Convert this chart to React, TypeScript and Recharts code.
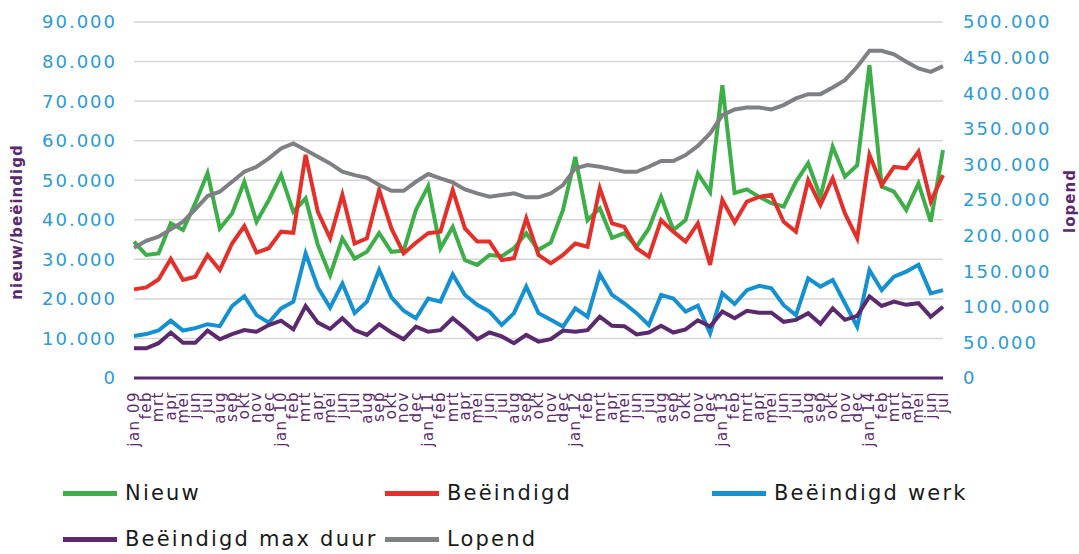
import { LineChart, Line, XAxis, YAxis, CartesianGrid, Legend } from 'recharts';

const FONT = '"DejaVu Sans", Verdana, sans-serif';
const PURPLE = '#5b2a6e';
const TICK_BLUE = '#2b9ad6';

const months = [
  'jan 09', 'feb', 'mrt', 'apr', 'mei', 'jun', 'jul', 'aug', 'sep', 'okt', 'nov', 'dec',
  'jan 10', 'feb', 'mrt', 'apr', 'mei', 'jun', 'jul', 'aug', 'sep', 'okt', 'nov', 'dec',
  'jan 11', 'feb', 'mrt', 'apr', 'mei', 'jun', 'jul', 'aug', 'sep', 'okt', 'nov', 'dec',
  'jan 12', 'feb', 'mrt', 'apr', 'mei', 'jun', 'jul', 'aug', 'sep', 'okt', 'nov', 'dec',
  'jan 13', 'feb', 'mrt', 'apr', 'mei', 'jun', 'jul', 'aug', 'sep', 'okt', 'nov', 'dec',
  'jan 14', 'feb', 'mrt', 'apr', 'mei', 'jun', 'jul',
];

const nieuw = [
  34500, 31100, 31500, 39100, 37400, 44200, 51800, 37800, 41600, 49600, 39500, 45000,
  51300, 42000, 45400, 33600, 26000, 35300, 30200, 31900, 36600, 31900, 32200, 42500,
  48500, 32800, 38200, 29800, 28600, 31100, 30800, 32800, 36600, 32400, 34200, 42500,
  55900, 39900, 42900, 35400, 36600, 33200, 37800, 45800, 37400, 39900, 51700, 47000,
  74000, 46800, 47700, 45800, 44200, 43300, 49600, 54300, 45800, 58500, 50900, 53800,
  79100, 48400, 47100, 42500, 49200, 39500, 57600,
];

const beeindigd = [
  22400, 22900, 24900, 30100, 24800, 25600, 31100, 27300, 34000, 38400, 31700, 32800,
  37000, 36700, 56400, 42000, 35300, 46300, 34000, 35300, 47500, 37800, 31500, 34200,
  36600, 37000, 47500, 37800, 34500, 34500, 29800, 30300, 40400, 31100, 29000, 31100,
  34000, 33200, 48000, 39100, 38200, 32800, 30700, 39900, 37000, 34500, 39100, 28600,
  45000, 39300, 44600, 45800, 46300, 39500, 37000, 50000, 43700, 50500, 41600, 35300,
  56400, 48800, 53400, 53000, 57200, 44600, 51300,
];

const beeindigdWerk = [
  10600, 11100, 12000, 14500, 12000, 12600, 13600, 13100, 18200, 20700, 15900, 14000,
  17600, 19300, 31500, 22900, 17800, 23900, 16400, 19300, 27300, 20400, 17000, 15100,
  20100, 19300, 26200, 21000, 18500, 16800, 13400, 16400, 23100, 16400, 14700, 13000,
  17600, 15500, 26300, 21000, 18900, 16400, 13400, 21000, 20100, 16800, 18300, 11300,
  21400, 18700, 22200, 23300, 22700, 18400, 15900, 25200, 23100, 24800, 18900, 13000,
  27300, 22200, 25600, 26900, 28600, 21400, 22200,
];

const beeindigdMaxDuur = [
  7500, 7500, 8800, 11500, 8900, 8900, 12000, 9800, 11100, 12100, 11700, 13400,
  14500, 12300, 18200, 14000, 12400, 15100, 12100, 10900, 13600, 11500, 9800, 13000,
  11700, 12100, 15100, 12600, 9800, 11500, 10500, 8800, 10900, 9200, 9800, 12000,
  11700, 12100, 15500, 13200, 13100, 11000, 11500, 13200, 11500, 12300, 14600, 13000,
  16800, 15100, 17000, 16500, 16500, 14200, 14700, 16400, 13700, 17600, 14700, 15700,
  20600, 18200, 19300, 18500, 18900, 15500, 18000,
];

const lopend = [
  183000, 192800, 198400, 208700, 219500, 236800, 255500, 261600, 275600, 289700, 296700, 308400,
  322500, 329500, 320100, 310700, 301400, 289700, 285000, 281200, 271000, 263000, 263000, 275600,
  286400, 280300, 274700, 264900, 259300, 254600, 256900, 259300, 253700, 253700, 259300, 271000,
  294400, 299100, 296700, 293400, 289700, 289700, 296700, 304700, 304700, 313100, 326000, 343500,
  369300, 377200, 380000, 380000, 377200, 383300, 392700, 398700, 398700, 408100, 418400, 437100,
  459500, 459500, 454500, 444100, 434800, 430000, 438000,
];

const leftTicks = [0, 10000, 20000, 30000, 40000, 50000, 60000, 70000, 80000, 90000];
const rightTicks = [0, 50000, 100000, 150000, 200000, 250000, 300000, 350000, 400000, 450000, 500000];

const seriesNames = ['Nieuw', 'Beëindigd', 'Beëindigd werk', 'Beëindigd max duur', 'Lopend'];
const legendX = [63, 385, 712];

const data = months.map((m, i) => ({
  month: m,
  nieuw: nieuw[i],
  beeindigd: beeindigd[i],
  werk: beeindigdWerk[i],
  maxDuur: beeindigdMaxDuur[i],
  lopend: lopend[i],
}));

const fmt = (v: number) => (v === 0 ? '0' : String(v).replace(/\B(?=(\d{3})+(?!\d))/g, '.'));

function MonthTick({ x, y, payload }: any) {
  return (
    <text
      transform={`translate(${x},${y + 11}) rotate(-90)`}
      textAnchor="end"
      dy="0.32em"
      fill={PURPLE}
      fontSize={15}
      fontFamily={FONT}
      letterSpacing={1.5}
    >
      {payload.value}
    </text>
  );
}

function ValueTick({ x, y, payload, anchor }: any) {
  return (
    <text x={x} y={y} dy="0.36em" textAnchor={anchor} fill={TICK_BLUE} fontSize={18} fontFamily={FONT} letterSpacing={2}>
      {fmt(payload.value)}
    </text>
  );
}

function AxisTitle({ cx, cy, text }: any) {
  return (
    <text
      transform={`translate(${cx},${cy}) rotate(-90)`}
      textAnchor="middle"
      dy="0.35em"
      fill={PURPLE}
      fontSize={15}
      fontWeight="bold"
      fontFamily={FONT}
      letterSpacing={1}
    >
      {text}
    </text>
  );
}

function renderLegend(props: any) {
  const items = [...(props.payload || [])].sort(
    (a: any, b: any) => seriesNames.indexOf(a.value) - seriesNames.indexOf(b.value)
  );
  return (
    <div style={{ position: 'relative', width: 1079, height: 92, fontFamily: FONT, fontSize: 21, letterSpacing: 2.2, color: '#1a1a1a' }}>
      {items.map((it: any, idx: number) => (
        <div
          key={it.value}
          style={{
            position: 'absolute',
            left: legendX[idx % 3],
            top: 8 + Math.floor(idx / 3) * 46,
            height: 46,
            display: 'flex',
            alignItems: 'center',
            whiteSpace: 'nowrap',
          }}
        >
          <span style={{ display: 'inline-block', width: 54, height: 5, background: it.color, marginRight: 8 }} />
          <span>{it.value}</span>
        </div>
      ))}
    </div>
  );
}

export default function App() {
  return (
    <div style={{ position: 'absolute', left: 0, top: 0, background: '#fff' }}>
      <LineChart width={1079} height={554} data={data} margin={{ top: 22, right: 0, bottom: 0, left: 0 }}>
        <CartesianGrid yAxisId="left" vertical={false} stroke="#d6d6d6" strokeWidth={1.5} />
        <XAxis
          dataKey="month"
          interval={0}
          height={84}
          tickLine={false}
          tickSize={0}
          axisLine={{ stroke: PURPLE, strokeWidth: 3 }}
          tick={<MonthTick />}
        />
        <YAxis
          yAxisId="left"
          width={134}
          domain={[0, 90000]}
          ticks={leftTicks}
          axisLine={false}
          tickLine={false}
          tickSize={0}
          tickMargin={17}
          tick={<ValueTick anchor="end" />}
          label={<AxisTitle cx={17} cy={222} text="nieuw/beëindigd" />}
        />
        <YAxis
          yAxisId="right"
          orientation="right"
          width={136}
          domain={[0, 500000]}
          ticks={rightTicks}
          axisLine={false}
          tickLine={false}
          tickSize={0}
          tickMargin={20}
          tick={<ValueTick anchor="start" />}
          label={<AxisTitle cx={1070} cy={201} text="lopend" />}
        />
        <Legend verticalAlign="bottom" content={renderLegend} wrapperStyle={{ left: 0, bottom: 0, width: 1079 }} />
        <Line yAxisId="left" name="Nieuw" dataKey="nieuw" stroke="#3dae48" strokeWidth={4} dot={false} isAnimationActive={false} />
        <Line yAxisId="left" name="Beëindigd" dataKey="beeindigd" stroke="#e3302a" strokeWidth={4} dot={false} isAnimationActive={false} />
        <Line yAxisId="left" name="Beëindigd werk" dataKey="werk" stroke="#1591d2" strokeWidth={4} dot={false} isAnimationActive={false} />
        <Line yAxisId="left" name="Beëindigd max duur" dataKey="maxDuur" stroke={PURPLE} strokeWidth={4} dot={false} isAnimationActive={false} />
        <Line yAxisId="right" name="Lopend" dataKey="lopend" stroke="#7f8084" strokeWidth={4} dot={false} isAnimationActive={false} />
      </LineChart>
    </div>
  );
}
